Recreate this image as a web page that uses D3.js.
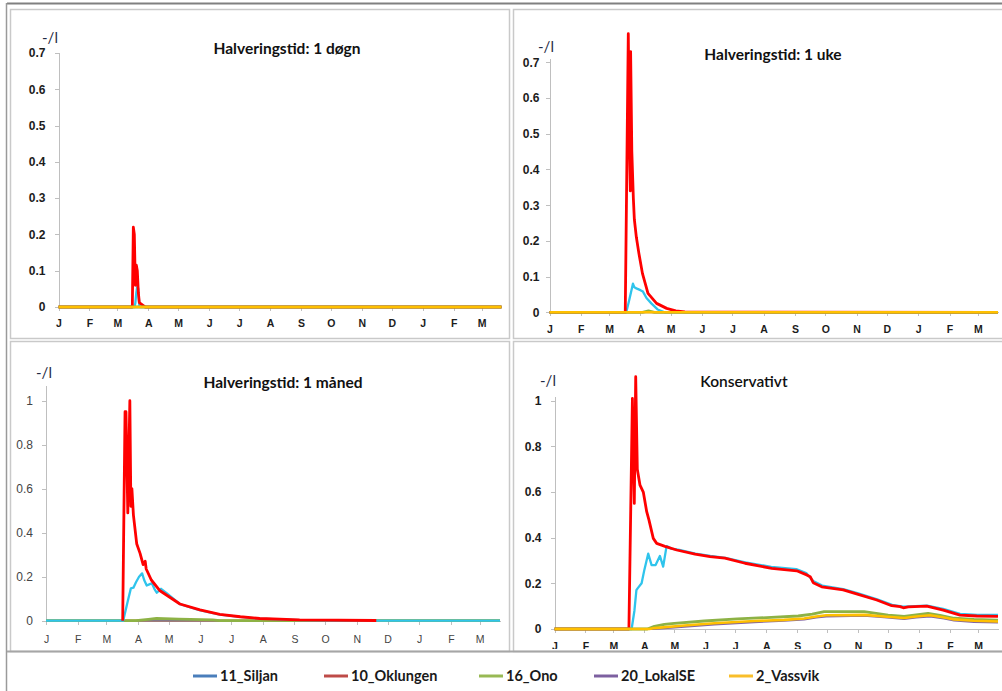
<!DOCTYPE html>
<html>
<head>
<meta charset="UTF-8">
<style>
  body { margin: 0; background: #fff; }
  svg { display: block; font-family: Lato, "Open Sans", sans-serif; }
  .panel { fill: #fff; stroke: #c9c9c9; stroke-width: 1.5px; }
  .axis path, .axis line { stroke: #bfbfbf; shape-rendering: crispEdges; }
  .axis text { fill: #1c1c1c; }
  .series { fill: none; stroke-linejoin: round; }
</style>
</head>
<body>
<svg></svg>
<script src="https://d3js.org/d3.v7.min.js"></script>
<script>

// x in days from 1 January, month starts for the axis
const monthStarts = [0, 31, 59, 90, 120, 151, 181, 212, 243, 273, 304, 334, 365, 396, 424];
const monthLabels = ["J", "F", "M", "A", "M", "J", "J", "A", "S", "O", "N", "D", "J", "F", "M"];
const lastDay = 444;

const ticks07 = [0, 0.1, 0.2, 0.3, 0.4, 0.5, 0.6, 0.7];
const ticks07Labels = ["0", "0.1", "0.2", "0.3", "0.4", "0.5", "0.6", "0.7"];
const ticks1 = [0, 0.2, 0.4, 0.6, 0.8, 1];
const ticks1Labels = ["0", "0.2", "0.4", "0.6", "0.8", "1"];

const seriesNames = ["11_Siljan", "10_Oklungen", "16_Ono", "20_LokalSE", "2_Vassvik"];

// Halveringstid: 1 døgn
const dognSiljan = [[0,0],[76,0],[77,0.01],[78,0.04],[79,0.058],[80,0.05],[81,0.004],[82,0],[444,0]];
const dognOklungen = [[0,0],[74,0],[75,0.22],[76,0.2],[77,0.06],[78,0.115],[79,0.1],[80,0.04],[81,0.012],[83,0.008],[85,0.004],[87,0],[444,0]];
const dognOno = [[0,0],[444,0]];
const dognLokalSE = [[0,0],[444,0]];
const dognVassvik = [[0,0],[444,0]];

// Halveringstid: 1 uke
const ukeSiljan = [[0,0],[76,0],[79,0.035],[82.6,0.08],[84,0.07],[86,0.067],[90,0.062],[92.5,0.058],[96,0.04],[100.8,0.025],[107,0.008],[114,0],[444,0]];
const ukeOklungen = [[0,0],[75,0],[78,0.78],[79,0.5],[80,0.34],[80.3,0.73],[81.5,0.45],[83,0.32],[84,0.26],[86,0.21],[88.5,0.165],[92,0.109],[97.5,0.053],[106,0.025],[116,0.011],[125,0.004],[134,0.001],[444,0]];
const ukeOno = [[0,0],[92,0],[98,0.004],[104,0],[444,0]];
const ukeLokalSE = [[0,0],[444,0]];
const ukeVassvik = [[0,0],[444,0]];

// Halveringstid: 1 måned
const manedSiljan = [[0,0],[75.5,0],[80,0.09],[83,0.147],[85.5,0.15],[88,0.175],[91,0.2],[94,0.215],[96,0.185],[98.5,0.16],[101,0.165],[103.5,0.17],[106,0.145],[108.3,0.127],[112.5,0.145],[118,0.125],[131,0.075],[150,0.048],[170,0.028],[190,0.017],[209,0.009],[248,0.003],[280,0],[444,0]];
const manedOklungen = [[75,0],[77.3,0.95],[78.2,0.95],[80,0.49],[82,1.0],[83,0.52],[84,0.6],[85.5,0.48],[88.7,0.35],[92,0.306],[95,0.255],[97,0.27],[98,0.235],[103,0.185],[111.5,0.136],[131,0.076],[150.6,0.049],[170,0.029],[190,0.018],[209,0.01],[248,0.004],[323,0.001]];
const manedOno = [[0,0],[88,0],[100,0.006],[108,0.01],[130,0.007],[163,0.004],[170,0],[444,0]];
const manedLokalSE = [[0,0],[444,0]];
const manedVassvik = [[0,0],[444,0]];

// Konservativt
const konsSiljan = [[0,0],[77.2,0],[80,0.08],[82,0.17],[83.2,0.178],[87.2,0.2],[90,0.26],[93.8,0.33],[97.2,0.28],[101.2,0.28],[105.5,0.32],[108.8,0.273],[112.2,0.363],[117,0.352],[125,0.347],[141,0.33],[156,0.32],[171,0.312],[191,0.292],[217,0.272],[242,0.262],[252,0.245],[259,0.21],[268,0.19],[289,0.175],[304,0.156],[323,0.13],[338,0.106],[349,0.098],[373,0.102],[389,0.088],[406,0.066],[423,0.062],[444,0.062]];
const konsOklungen = [[0,0],[74.5,0],[78,1.01],[79.9,0.55],[81.3,1.105],[82.9,0.7],[85.6,0.63],[88.9,0.6],[92.3,0.514],[94.6,0.477],[98.9,0.397],[102.3,0.375],[110.6,0.362],[122.3,0.346],[140.7,0.328],[155.7,0.317],[170.6,0.31],[190.7,0.288],[217.4,0.266],[242.5,0.255],[252.5,0.237],[256,0.229],[259,0.203],[267.5,0.185],[289,0.171],[304,0.152],[322.6,0.127],[337.6,0.102],[346,0.098],[349.2,0.093],[354.2,0.097],[372.6,0.1],[389.2,0.083],[406,0.061],[422.7,0.057],[444,0.055]];
const konsOno = [[0,0],[93,0],[100,0.012],[110,0.02],[120,0.025],[150,0.035],[183,0.044],[217,0.051],[244,0.057],[258,0.065],[270,0.076],[310,0.076],[322,0.068],[334,0.061],[350,0.055],[362,0.062],[374,0.068],[386,0.06],[400,0.047],[420,0.042],[444,0.039]];
const konsLokalSE = [[0,0],[100,0],[130,0.01],[160,0.02],[200,0.03],[230,0.036],[250,0.042],[262,0.05],[272,0.055],[310,0.058],[330,0.051],[350,0.044],[362,0.05],[376,0.055],[390,0.046],[400,0.037],[420,0.031],[444,0.028]];
const konsVassvik = [[0,0],[95,0],[100,0.004],[130,0.015],[160,0.025],[200,0.035],[230,0.04],[250,0.046],[262,0.055],[272,0.06],[310,0.062],[330,0.055],[350,0.048],[362,0.055],[376,0.06],[390,0.05],[400,0.042],[420,0.036],[444,0.033]];

const lineColors = ["#2fc4ec", "#ff0000", "#8db245", "#8064a2", "#ffc000"];
const lineWidths = [2.3, 2.8, 2.8, 2, 2.6];
const legendColors = ["#4a7ebb", "#be4b48", "#98b954", "#7d60a0", "#f9be2a"];

let width = 1002, height = 691;
let svg = d3.select("svg").attr("width", width).attr("height", height);

// outer frame
svg.append("line").attr("x1", 7).attr("x2", width).attr("y1", 3.5).attr("y2", 3.5)
   .attr("stroke", "#808080").attr("stroke-width", 2);
svg.append("line").attr("x1", 6.5).attr("x2", 6.5).attr("y1", 3).attr("y2", height)
   .attr("stroke", "#9a9a9a").attr("stroke-width", 1.5);

let panels = [
  { title: "Halveringstid: 1 døgn", bold: true, box: [10, 9, 499, 329],
    xr: [58.5, 501.5], y0: 307, pxu: 362.9, yTop: 0.7, ticks: ticks07, tickLabels: ticks07Labels,
    xPad: 9, yPad: 9, tx: 287, ty: 54, ux: 50, uy: 43,
    data: [dognSiljan, dognOklungen, dognOno, dognLokalSE, dognVassvik], order: [0, 1, 2, 3, 4] },
  { title: "Halveringstid: 1 uke", bold: true, box: [513, 9, 500, 329],
    xr: [549.5, 998], y0: 312.3, pxu: 357.1, yTop: 0.712, ticks: ticks07, tickLabels: ticks07Labels,
    xPad: 9, yPad: 6, tx: 773, ty: 60, ux: 546, uy: 52,
    data: [ukeSiljan, ukeOklungen, ukeOno, ukeLokalSE, ukeVassvik], order: [0, 1, 2, 3, 4] },
  { title: "Halveringstid: 1 måned", bold: false, box: [10, 341, 499, 310],
    xr: [46, 500], y0: 620.7, pxu: 220, yTop: 1.07, ticks: ticks1, tickLabels: ticks1Labels,
    xPad: 11, yPad: 9, tx: 283, ty: 388, ux: 44, uy: 378,
    data: [manedSiljan, manedOklungen, manedOno, manedLokalSE, manedVassvik], order: [4, 3, 2, 0, 1] },
  { title: "Konservativt", bold: true, box: [513, 341, 500, 310],
    xr: [554.5, 998], y0: 629, pxu: 228.3, yTop: 1.02, ticks: ticks1, tickLabels: ticks1Labels,
    xPad: 10, yPad: 9, tx: 744, ty: 387, ux: 548, uy: 386,
    data: [konsSiljan, konsOklungen, konsOno, konsLokalSE, konsVassvik], order: [0, 1, 2, 3, 4] }
];

panels.forEach((p, pi) => {
  let g = svg.append("g");
  let [bx, by, bw, bh] = p.box;

  g.append("rect").attr("class", "panel")
    .attr("x", bx + 0.5).attr("y", by + 0.5).attr("width", bw).attr("height", bh);

  svg.append("clipPath").attr("id", "clip" + pi)
    .append("rect").attr("x", bx + 1).attr("y", by + 1).attr("width", bw - 1)
    .attr("height", pi == 3 ? bh - 3 : bh - 1.5);

  let inner = g.append("g").attr("clip-path", "url(#clip" + pi + ")");

  let x = d3.scaleLinear().domain([0, lastDay]).range(p.xr);
  let y = d3.scaleLinear().domain([0, p.yTop]).range([p.y0, p.y0 - p.yTop * p.pxu]);

  let weight = p.bold ? "bold" : "normal";

  // y axis
  let ya = inner.append("g").attr("class", "axis")
    .attr("transform", "translate(" + p.xr[0] + ",0)")
    .call(d3.axisLeft(y).tickValues(p.ticks).tickSizeInner(4).tickSizeOuter(0).tickPadding(p.yPad)
      .tickFormat((d, i) => p.tickLabels[i]));
  ya.selectAll("text").style("font-size", "12px").style("font-weight", weight)
    .style("fill", p.bold ? "#1c1c1c" : "#444");

  // x axis
  let xa = inner.append("g").attr("class", "axis")
    .attr("transform", "translate(0," + p.y0 + ")")
    .call(d3.axisBottom(x).tickValues(monthStarts).tickSizeInner(4).tickSizeOuter(0).tickPadding(p.xPad)
      .tickFormat((d, i) => monthLabels[i]));
  xa.selectAll("text").style("font-size", "10.5px").style("font-weight", weight)
    .style("fill", p.bold ? "#1c1c1c" : "#444");

  // series
  let line = d3.line().x(d => x(d[0])).y(d => y(d[1]));
  p.order.forEach(si => {
    inner.append("path").attr("class", "series")
      .attr("d", line(p.data[si]))
      .attr("stroke", lineColors[si])
      .attr("stroke-width", lineWidths[si]);
  });

  // unit label and title
  inner.append("text").attr("x", p.ux).attr("y", p.uy)
    .attr("text-anchor", "middle").style("font-size", "15px").style("fill", "#1f2a44")
    .text("-/l");
  inner.append("text").attr("x", p.tx).attr("y", p.ty)
    .attr("text-anchor", "middle")
    .style("font-size", "15.5px")
    .style("font-weight", pi == 3 ? "600" : "bold")
    .style("fill", "#111")
    .text(p.title);
});

// bottom separator of the chart area
svg.append("line").attr("x1", 7).attr("x2", width).attr("y1", 651.5).attr("y2", 651.5)
   .attr("stroke", "#a6a6a6").attr("stroke-width", 2);

// legend
let legendX = [193, 324, 479, 594, 729];
let legend = svg.selectAll("g.legend")
  .data(seriesNames)
  .enter().append("g")
  .attr("class", "legend")
  .attr("transform", (d, i) => "translate(" + legendX[i] + ",676)");

legend.append("line")
  .attr("x1", 0).attr("x2", 24).attr("y1", 0).attr("y2", 0)
  .attr("stroke", (d, i) => legendColors[i])
  .attr("stroke-width", 3);

legend.append("text")
  .attr("x", 27).attr("y", 5)
  .style("font-size", "14.5px").style("font-weight", "bold").style("fill", "#1a1a1a")
  .text(d => d);

</script>
</body>
</html>
